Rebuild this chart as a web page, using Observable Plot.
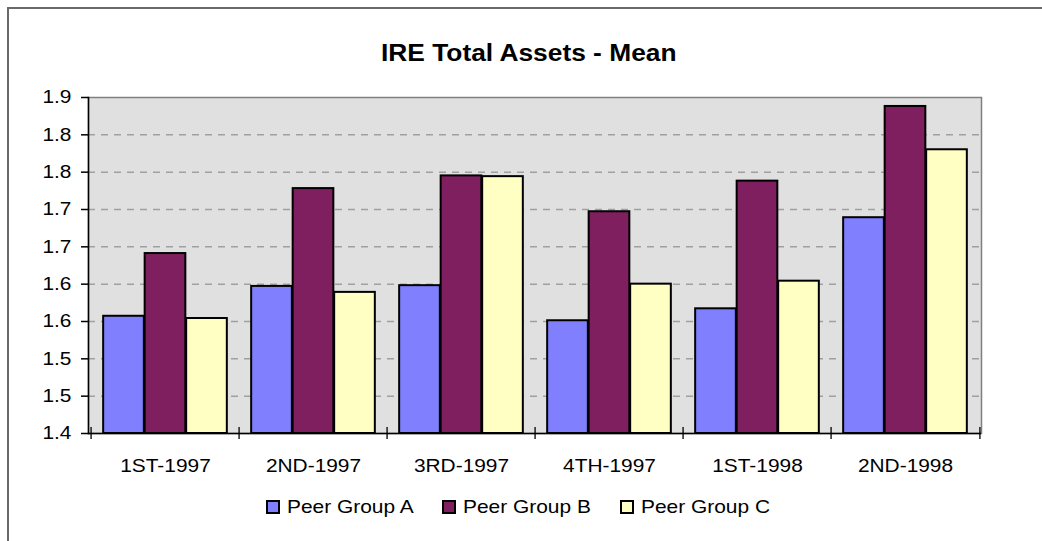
<!DOCTYPE html>
<html>
<head>
<meta charset="utf-8">
<script src="https://cdn.jsdelivr.net/npm/d3@7"></script>
<script src="https://cdn.jsdelivr.net/npm/@observablehq/plot@0.6"></script>
<style>
  html, body { margin: 0; padding: 0; background: #ffffff; }
  #wrap { position: relative; width: 1042px; height: 541px; overflow: hidden; background: #fff;
          font-family: 'Liberation Sans', Arial, sans-serif; }
  #wrap svg { position: absolute; left: 0; top: 0; }
  #border { position: absolute; left: 7px; top: 7px; width: 1200px; height: 700px;
            border-left: 2px solid #6a6a6a; border-top: 2px solid #6a6a6a; }
  #title { position: absolute; left: 0; top: 42px; width: 1057.6px; text-align: center;
           font-size: 23.3px; line-height: 1; font-weight: bold; color: #000; }
  #title span { display: inline-block; transform: scaleX(1.13); transform-origin: center; white-space: nowrap; }
  .lg-label { position: absolute; top: 497.6px; font-size: 18.5px; line-height: 1; color: #000;
              white-space: nowrap; transform-origin: left center; transform: scaleX(1.13); }
  .sw { position: absolute; top: 500px; width: 10px; height: 10px; border: 2px solid #000; }
</style>
</head>
<body>
<div id="wrap"></div>
<script>
// ---- data ----
const categories = ["1ST-1997", "2ND-1997", "3RD-1997", "4TH-1997", "1ST-1998", "2ND-1998"];
const seriesNames = ["Peer Group A", "Peer Group B", "Peer Group C"];
const groupA = [1.557, 1.597, 1.598, 1.551, 1.567, 1.689];
const groupB = [1.641, 1.728, 1.745, 1.697, 1.738, 1.838];
const groupC = [1.554, 1.589, 1.744, 1.600, 1.604, 1.780];
const yTicks = [1.40, 1.45, 1.50, 1.55, 1.60, 1.65, 1.70, 1.75, 1.80, 1.85];
const yTickLabels = ["1.4", "1.5", "1.5", "1.6", "1.6", "1.7", "1.7", "1.8", "1.8", "1.9"];
const titleText = "IRE Total Assets - Mean";
const colors = ["#8080ff", "#7f1f5f", "#ffffc4"];

const seriesValues = [groupA, groupB, groupC];
const table = categories.flatMap((c, i) =>
  seriesNames.map((s, j) => ({category: c, series: s, value: seriesValues[j][i]})));

// ---- layout ----
const W = 1042, H = 541;
const mT = 97, mB = 108, mL = 88, mR = 61;
const step = (W - mL - mR) / categories.length;
const barW = 41.5;
const pad = (step - seriesNames.length * barW) / 2;
const textStretch = 1.13;

const bars = seriesNames.map((s, j) =>
  Plot.barY(table.filter(d => d.series === s), {
    x: "category",
    y1: () => yTicks[0],
    y2: "value",
    fill: "series",
    stroke: "black",
    strokeWidth: 2,
    insetLeft: pad + j * barW,
    insetRight: step - pad - (j + 1) * barW
  }));

const chart = Plot.plot({
  width: W,
  height: H,
  marginTop: mT,
  marginBottom: mB,
  marginLeft: mL,
  marginRight: mR,
  style: {
    background: "transparent",
    fontFamily: "'Liberation Sans', Arial, sans-serif",
    fontSize: "18.5px",
    color: "black"
  },
  x: {domain: categories, padding: 0, label: null},
  y: {domain: [yTicks[0], yTicks[yTicks.length - 1]], label: null},
  color: {domain: seriesNames, range: colors},
  marks: [
    Plot.frame({fill: "#e0e0e0"}),
    Plot.gridY(yTicks.slice(1, -1), {stroke: "#a0a0a0", strokeOpacity: 1, strokeWidth: 1.5, strokeDasharray: "7,6"}),
    Plot.frame({stroke: "#808080", strokeWidth: 1.5}),
    ...bars,
    Plot.ruleY([yTicks[0]], {stroke: "black", strokeWidth: 1.5}),
    Plot.frame({anchor: "left", stroke: "black", strokeWidth: 1.5}),
    Plot.axisY({
      ticks: yTicks,
      tickFormat: d => yTickLabels[yTicks.indexOf(d)],
      tickSize: 7,
      tickPadding: 10,
      stroke: "black",
      strokeWidth: 1.5,
      fontSize: 18.5,
      label: null
    }),
    Plot.axisX({tickSize: 0, tickPadding: 25, fontSize: 18.5, label: null}),
    Plot.axisX({tickSize: 12, dy: -6, dx: -step / 2, tickFormat: () => "", stroke: "black", strokeWidth: 1.3, label: null}),
    Plot.axisX({ticks: [categories[categories.length - 1]], tickSize: 12, dy: -6, dx: step / 2, tickFormat: () => "", stroke: "black", strokeWidth: 1.3, label: null})
  ]
});

// widen glyphs horizontally around each label's own anchor, like the reference rendering
d3.select(chart).selectAll("text").each(function() {
  const x = +(this.getAttribute("x") || 0);
  const t = this.getAttribute("transform") || "";
  this.setAttribute("transform", `${t} translate(${x} 0) scale(${textStretch} 1) translate(${-x} 0)`);
});

const wrap = document.getElementById("wrap");
wrap.appendChild(chart);

const border = document.createElement("div");
border.id = "border";
wrap.appendChild(border);

const title = document.createElement("div");
title.id = "title";
const tspan = document.createElement("span");
tspan.textContent = titleText;
title.appendChild(tspan);
wrap.appendChild(title);

// legend
let lx = 266;
seriesNames.forEach((s, j) => {
  const sw = document.createElement("div");
  sw.className = "sw";
  sw.style.left = lx + "px";
  sw.style.background = colors[j];
  wrap.appendChild(sw);
  const label = document.createElement("div");
  label.className = "lg-label";
  label.textContent = s;
  label.style.left = (lx + 20.7) + "px";
  wrap.appendChild(label);
  const w = label.getBoundingClientRect().width; // already includes scaleX
  lx = lx + 20.7 + w + 29;
});
</script>
</body>
</html>
